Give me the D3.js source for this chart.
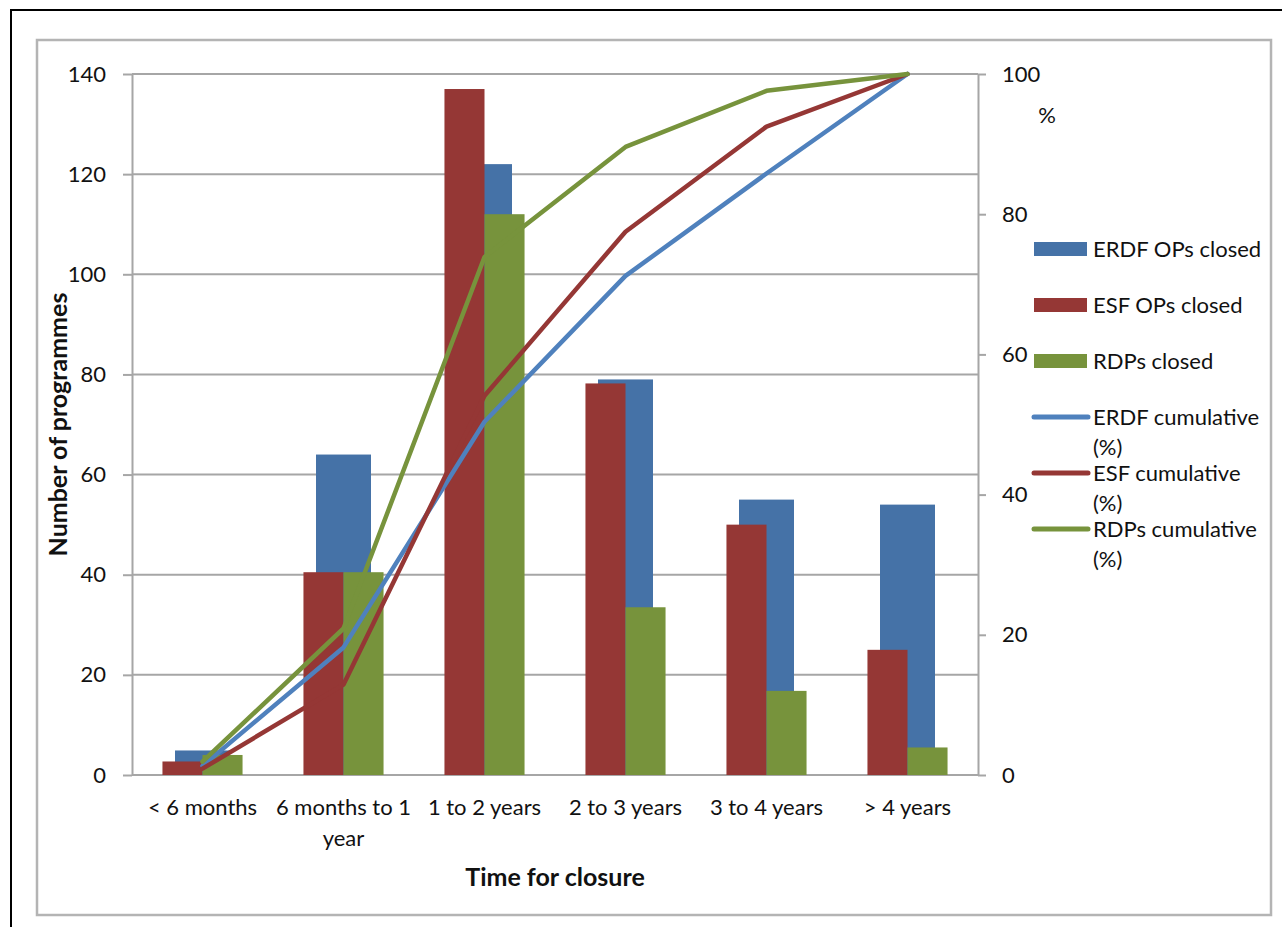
<!DOCTYPE html>
<html>
<head>
<meta charset="utf-8">
<script src="https://cdn.jsdelivr.net/npm/d3@7"></script>
<style>
  html, body { margin: 0; padding: 0; background: #fff; }
  svg { display: block; }
  text { font-family: Lato, "Open Sans", sans-serif; fill: #111; }
</style>
</head>
<body>
<svg id="chart" width="1282" height="927"></svg>
<script>
// ---- data ----
const categories = ["< 6 months", "6 months to 1 year", "1 to 2 years", "2 to 3 years", "3 to 4 years", "> 4 years"];
const erdfClosed = [4.9, 64, 122, 79, 55, 54];
const esfClosed  = [2.7, 40.5, 137, 78.2, 50, 25];
const rdpClosed  = [4, 40.5, 112, 33.5, 16.8, 5.5];
const erdfCumulative = [1.3, 18.2, 50.4, 71.2, 85.8, 100];
const esfCumulative  = [0.9, 12.9, 54.1, 77.5, 92.5, 100];
const rdpCumulative  = [1.9, 20.9, 73.9, 89.6, 97.6, 100];
const leftTicks  = [0, 20, 40, 60, 80, 100, 120, 140];
const rightTicks = [0, 20, 40, 60, 80, 100];
const seriesNames = ["ERDF OPs closed", "ESF OPs closed", "RDPs closed",
                     "ERDF cumulative (%)", "ESF cumulative (%)", "RDPs cumulative (%)"];

// ---- styles ----
const C = {
  erdfBar: "#4572A7", esfBar: "#953735", rdpBar: "#77933C",
  erdfLine: "#4F81BD", esfLine: "#953735", rdpLine: "#77933C",
  grid: "#A6A6A6"
};
const FS = 22;
const TFS = 25;

const svg = d3.select("#chart");
svg.append("rect").attr("width", 1282).attr("height", 927).attr("fill", "#fff");

// frames
svg.append("rect").attr("x", 11).attr("y", 10).attr("width", 1300).attr("height", 960)
  .attr("fill", "none").attr("stroke", "#000").attr("stroke-width", 2);
svg.append("rect").attr("x", 37).attr("y", 40).attr("width", 1234).attr("height", 875)
  .attr("fill", "none").attr("stroke", "#B4B4B4").attr("stroke-width", 2.5);

const plot = { left: 132, right: 978, top: 74, bottom: 775 };
const x = d3.scaleBand().domain(categories).range([plot.left, plot.right]).padding(0);
const y = d3.scaleLinear().domain([0, 140]).range([plot.bottom, plot.top]);
const y2 = d3.scaleLinear().domain([0, 100]).range([plot.bottom, plot.top]);
const bw = x.bandwidth();
const sideW = bw * 0.284;   // red & green bar width
const backW = bw * 0.39;    // blue bar width

// gridlines
svg.append("g").selectAll("line").data(leftTicks).join("line")
  .attr("x1", plot.left).attr("x2", plot.right)
  .attr("y1", d => y(d)).attr("y2", d => y(d))
  .attr("stroke", C.grid).attr("stroke-width", 2);

// bars
const idx = d3.range(categories.length);
svg.append("g").selectAll("rect").data(idx).join("rect")
  .attr("x", i => x(categories[i]) + bw / 2 - backW / 2)
  .attr("width", backW)
  .attr("y", i => y(erdfClosed[i]))
  .attr("height", i => y(0) - y(erdfClosed[i]))
  .attr("fill", C.erdfBar);
svg.append("g").selectAll("rect").data(idx).join("rect")
  .attr("x", i => x(categories[i]) + bw / 2 - sideW)
  .attr("width", sideW)
  .attr("y", i => y(esfClosed[i]))
  .attr("height", i => y(0) - y(esfClosed[i]))
  .attr("fill", C.esfBar);
svg.append("g").selectAll("rect").data(idx).join("rect")
  .attr("x", i => x(categories[i]) + bw / 2)
  .attr("width", sideW)
  .attr("y", i => y(rdpClosed[i]))
  .attr("height", i => y(0) - y(rdpClosed[i]))
  .attr("fill", C.rdpBar);

// axes
const gl = svg.append("g").attr("transform", `translate(${plot.left},0)`)
  .call(d3.axisLeft(y).tickValues(leftTicks).tickSize(9).tickSizeOuter(0).tickPadding(17));
const gr = svg.append("g").attr("transform", `translate(${plot.right},0)`)
  .call(d3.axisRight(y2).tickValues(rightTicks).tickSize(8).tickSizeOuter(0).tickPadding(16));
[gl, gr].forEach(g => {
  g.select(".domain").attr("stroke", C.grid).attr("stroke-width", 2);
  g.selectAll(".tick line").attr("stroke", C.grid).attr("stroke-width", 2);
  g.selectAll(".tick text").attr("font-size", FS).attr("font-family", "Lato, sans-serif").attr("fill", "#111");
});

// lines
const line = d3.line().x((d, i) => x(categories[i]) + bw / 2).y(d => y2(d));
[[erdfCumulative, C.erdfLine], [esfCumulative, C.esfLine], [rdpCumulative, C.rdpLine]].forEach(([data, col]) => {
  svg.append("path").datum(data).attr("d", line)
    .attr("fill", "none").attr("stroke", col).attr("stroke-width", 4.5)
    .attr("stroke-linejoin", "round").attr("stroke-linecap", "round");
});

// x tick labels (wrapped)
function wrapLines(label, maxW) {
  const words = label.split(" ");
  const tmp = svg.append("text").attr("font-size", FS);
  const lines = []; let cur = "";
  words.forEach(w => {
    const test = cur ? cur + " " + w : w;
    tmp.text(test);
    if (tmp.node().getComputedTextLength() > maxW && cur) { lines.push(cur); cur = w; }
    else cur = test;
  });
  lines.push(cur);
  tmp.remove();
  return lines;
}
const xl = svg.append("g");
categories.forEach(c => {
  const lines = wrapLines(c, bw - 4);
  const t = xl.append("text").attr("text-anchor", "middle").attr("font-size", FS)
    .attr("x", x(c) + bw / 2).attr("y", 815);
  lines.forEach((l, k) => t.append("tspan").attr("x", x(c) + bw / 2).attr("dy", k === 0 ? 0 : 31).text(l));
});

// axis titles
svg.append("text").attr("text-anchor", "middle").attr("font-size", TFS).attr("font-weight", "bold")
  .attr("x", (plot.left + plot.right) / 2).attr("y", 886).text("Time for closure");
svg.append("text").attr("text-anchor", "middle").attr("font-size", TFS).attr("font-weight", "bold")
  .attr("transform", `translate(67,${(plot.top + plot.bottom) / 2}) rotate(-90)`).text("Number of programmes");
svg.append("text").attr("text-anchor", "middle").attr("font-size", FS)
  .attr("x", 1047).attr("y", 123).text("%");

// legend
const legend = svg.append("g");
const legendRows = [
  { name: seriesNames[0], type: "bar", col: C.erdfBar, y: 249 },
  { name: seriesNames[1], type: "bar", col: C.esfBar, y: 305 },
  { name: seriesNames[2], type: "bar", col: C.rdpBar, y: 361 },
  { name: seriesNames[3], type: "line", col: C.erdfLine, y: 417 },
  { name: seriesNames[4], type: "line", col: C.esfLine, y: 473 },
  { name: seriesNames[5], type: "line", col: C.rdpLine, y: 529 }
];
legendRows.forEach(r => {
  if (r.type === "bar") {
    legend.append("rect").attr("x", 1034).attr("y", r.y - 7).attr("width", 53).attr("height", 14).attr("fill", r.col);
    legend.append("text").attr("font-size", FS).attr("x", 1093).attr("y", r.y + 8).text(r.name);
  } else {
    legend.append("line").attr("x1", 1034).attr("x2", 1088).attr("y1", r.y).attr("y2", r.y)
      .attr("stroke", r.col).attr("stroke-width", 5).attr("stroke-linecap", "round");
    const parts = r.name.split(" (");
    legend.append("text").attr("font-size", FS).attr("x", 1093).attr("y", r.y + 8).text(parts[0]);
    legend.append("text").attr("font-size", FS).attr("x", 1093).attr("y", r.y + 38).text("(" + parts[1]);
  }
});
</script>
</body>
</html>
